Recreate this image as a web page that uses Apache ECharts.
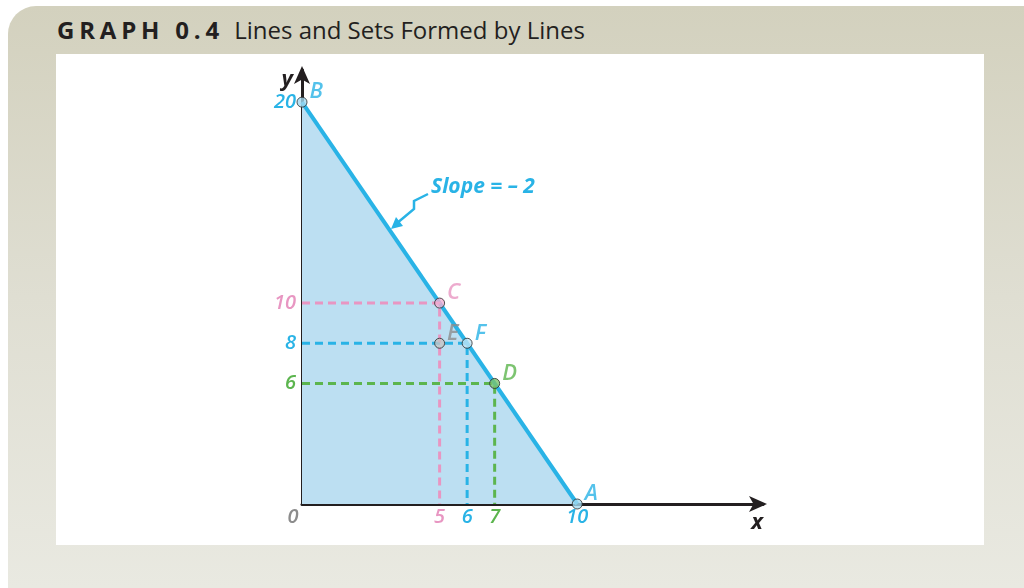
<!DOCTYPE html>
<html>
<head>
<meta charset="utf-8">
<script src="https://cdn.jsdelivr.net/npm/echarts@6/dist/echarts.min.js"></script>
<style>
  html, body { margin:0; padding:0; background:#ffffff; }
  #frame { position:absolute; left:8px; top:6px; width:1016px; height:582px;
    border-top-left-radius:28px;
    background:linear-gradient(to bottom, #d3d1be 0%, #dfded2 50%, #e9e9e1 100%); }
  #panel { position:absolute; left:56px; top:54px; width:928px; height:491px; background:#ffffff; }
  #title { position:absolute; left:57px; top:13px; font-family:'Open Sans', sans-serif; font-size:24px; color:#231f20; white-space:nowrap; }
  #title b { font-weight:700; letter-spacing:4.8px; margin-right:4px; }
  #chart { position:absolute; left:0; top:0; width:1024px; height:588px; }
</style>
</head>
<body>
<div id="frame"></div>
<div id="panel"></div>
<div id="title"><b>GRAPH 0.4</b> Lines and Sets Formed by Lines</div>
<div id="chart"></div>
<script>
// ---- data ----
const budgetLine = [[0, 20], [10, 0]];          // B -> A, slope -2
const guideC = [[0, 10], [5, 10], [5, 0]];      // pink guide to C
const guideF = [[0, 8], [6, 8], [6, 0]];        // blue guide to F
const guideD = [[0, 6], [7, 6], [7, 0]];        // green guide to D
const pointNames = ['B', 'A', 'C', 'E', 'F', 'D'];
const pointX = [0, 10, 5, 5, 6, 7];
const pointY = [20, 0, 10, 8, 8, 6];
const xTicks = [0, 5, 6, 7, 10];
const yTicks = [6, 8, 10, 20];
const slopeText = 'Slope = \u2013 2';

// ---- styles ----
const BLUE = '#29b3e6', PINK = '#e896c2', GREEN = '#5cb54e', GRAY = '#8c8c8c', DARK = '#231f20';
const pointFill = { B: '#a3d9f1', A: '#a3d9f1', C: '#f0aed2', E: '#c4c4c4', F: '#c0e4f5', D: '#7cc36c' };
const pointLabelColor = { B: BLUE, A: BLUE, C: PINK, E: GRAY, F: BLUE, D: GREEN };
const xTickColor = { 0: GRAY, 5: PINK, 6: BLUE, 7: GREEN, 10: BLUE };
const yTickColor = { 6: GREEN, 8: BLUE, 10: PINK, 20: BLUE };
const FONT = "'Open Sans', sans-serif";
const LBL = { fontSize: 20, fontStyle: 'italic', fontWeight: 600, fontFamily: FONT };

const chart = echarts.init(document.getElementById('chart'), null, { renderer: 'canvas' });

function guide(data, color) {
  return { type: 'line', data: data, symbol: 'none', silent: true, z: 3,
    lineStyle: { color: color, width: 3, type: [8, 5] } };
}

const points = pointNames.map((n, i) => ({
  value: [pointX[i], pointY[i]],
  itemStyle: { color: pointFill[n], borderColor: '#2a2a2a', borderWidth: 1 },
  label: { show: true, formatter: n, position: 'right', distance: 2, offset: [0, -10],
    color: pointLabelColor[n], fontSize: 22, fontStyle: 'italic', fontWeight: 600, fontFamily: FONT }
}));

chart.setOption({
  animation: false,
  backgroundColor: 'transparent',
  grid: { left: 302, top: 70, width: 461, height: 434, containLabel: false },
  xAxis: {
    type: 'value', min: 0, max: 16.75, name: 'x', nameLocation: 'end', nameGap: -6,
    nameTextStyle: { color: DARK, fontSize: 22, fontWeight: 'bold', fontStyle: 'italic', fontFamily: FONT,
      align: 'center', verticalAlign: 'top', padding: [8, 0, 0, 0] },
    splitLine: { show: false }, axisTick: { show: false },
    axisLine: { show: true, lineStyle: { color: DARK, width: 3 }, symbol: ['none', 'arrow'], symbolSize: [12, 18], symbolOffset: [0, 4] },
    axisLabel: { customValues: xTicks, margin: 3, ...LBL,
      formatter: v => v === 0 ? '{z|0}' : '{c' + v + '|' + v + '}',
      rich: Object.assign({ z: Object.assign({ color: GRAY, padding: [0, 18, 0, 0] }, LBL) },
        Object.fromEntries(xTicks.filter(t => t).map(t => ['c' + t, Object.assign({ color: xTickColor[t] }, LBL)]))) }
  },
  yAxis: {
    type: 'value', min: 0, max: 21.6, name: 'y', nameLocation: 'end', nameGap: -10,
    nameTextStyle: { color: DARK, fontSize: 22, fontWeight: 'bold', fontStyle: 'italic', fontFamily: FONT,
      align: 'right', verticalAlign: 'middle', padding: [0, 9, 0, 0] },
    splitLine: { show: false }, axisTick: { show: false },
    axisLine: { show: true, lineStyle: { color: DARK, width: 3 }, symbol: ['none', 'arrow'], symbolSize: [12, 18], symbolOffset: [0, 4] },
    axisLabel: { customValues: yTicks, margin: 6, ...LBL,
      formatter: v => '{c' + v + '|' + v + '}',
      rich: Object.fromEntries(yTicks.map(t => ['c' + t, Object.assign({ color: yTickColor[t] }, LBL)])) }
  },
  series: [
    { type: 'line', data: budgetLine, symbol: 'none', z: 2,
      lineStyle: { color: BLUE, width: 4 }, areaStyle: { color: '#bcdff2', opacity: 1 } },
    guide(guideD, GREEN),
    guide(guideF, BLUE),
    guide(guideC, PINK),
    { type: 'scatter', data: points, symbolSize: 10, z: 5 }
  ],
  graphic: [
    { type: 'text', left: 431, top: 177, z: 10,
      style: { text: slopeText, fill: BLUE, fontSize: 21, fontWeight: 'bold', fontStyle: 'italic', fontFamily: FONT } },
    { type: 'polyline', z: 10,
      shape: { points: [[428, 194], [414, 201], [414, 209], [396, 224]] },
      style: { stroke: BLUE, lineWidth: 2.5, fill: null } },
    { type: 'polygon', z: 10,
      shape: { points: [[391, 229], [396, 217], [403, 226]] },
      style: { fill: BLUE } }
  ]
});
</script>
</body>
</html>
